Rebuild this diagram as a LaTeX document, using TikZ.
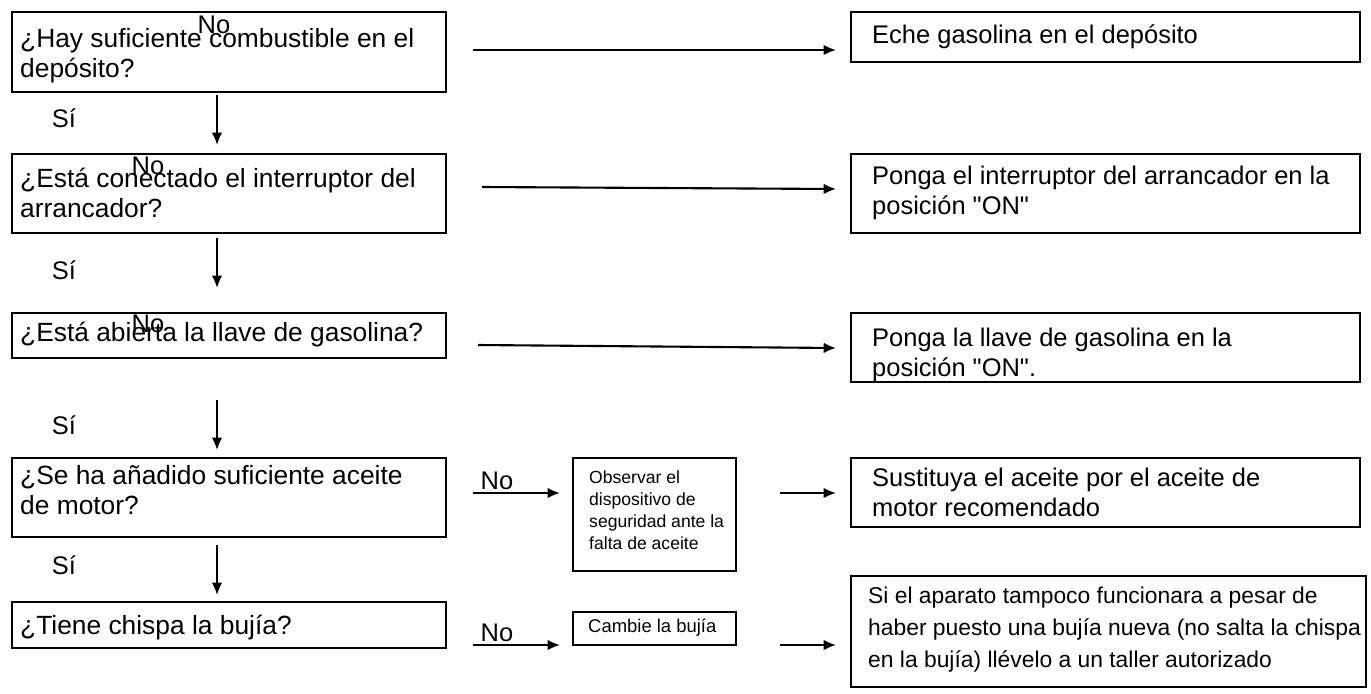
\documentclass[tikz,border=0pt]{standalone}
\usepackage{fontspec}
\setmainfont{Liberation Sans}
\usetikzlibrary{positioning,arrows.meta}
\newcommand\px{0.02cm}
\begin{document}
\begin{tikzpicture}[x=0.02cm,y=-0.02cm,
  box/.style={draw,thick,anchor=north west,inner sep=0pt,outer sep=0pt},
  lbl/.style={font=\fontsize{14.5}{17}\selectfont},
  qlbl/.style={font=\fontsize{15}{17}\selectfont},
  arr/.style={-{Latex[length=7pt,width=6pt]},line width=1.2pt}]
\useasboundingbox (0,0) rectangle (1371,693);

% QUESTIONS
\node[box,minimum width=434*\px,minimum height=80*\px] (q1) at (12,12) {};
\node[anchor=north west,qlbl,align=left] at (14,22) {¿Hay suficiente combustible en el\\depósito?};
\node[box,minimum width=434*\px,minimum height=79*\px] (q2) at (12,154) {};
\node[anchor=west,qlbl,align=left] at (14,193) {¿Está conectado el interruptor del\\arrancador?};
\node[box,minimum width=434*\px,minimum height=45*\px] (q3) at (12,313) {};
\node[anchor=west,qlbl] at (14,335) {¿Está abierta la llave de gasolina?};
\node[box,minimum width=434*\px,minimum height=79*\px] (q4) at (12,458) {};
\node[anchor=west,qlbl,align=left] at (14,490) {¿Se ha añadido suficiente aceite\\de motor?};
\node[box,minimum width=434*\px,minimum height=46*\px] (q5) at (12,602) {};
\node[anchor=west,qlbl] at (14,628) {¿Tiene chispa la bujía?};

% ACTIONS
\node[box,minimum width=509*\px,minimum height=50*\px] (a1) at (851,12) {};
\node[anchor=west,lbl] at (866,37) {Eche gasolina en el depósito};
\node[box,minimum width=509*\px,minimum height=79*\px] (a2) at (851,154) {};
\node[anchor=north west,lbl,align=left] at (866,160) {Ponga el interruptor del arrancador en la\\posición \textquotedbl ON\textquotedbl};
\node[box,minimum width=509*\px,minimum height=69*\px] (a3) at (851,313) {};
\node[anchor=north west,lbl,align=left] at (866,322) {Ponga la llave de gasolina en la\\posición \textquotedbl ON\textquotedbl .};
\node[box,minimum width=509*\px,minimum height=69*\px] (a4) at (851,458) {};
\node[anchor=north west,lbl,align=left] at (866,462) {Sustituya el aceite por el aceite de\\motor recomendado};
\node[box,minimum width=515*\px,minimum height=111*\px] (a5) at (851,576) {};
\node[anchor=north west,align=left,font=\fontsize{13}{18}\selectfont] at (862,581) {Si el aparato tampoco funcionara a pesar de\\haber puesto una bujía nueva (no salta la chispa\\en la bujía) llévelo a un taller autorizado};

% MIDDLE
\node[box,minimum width=163*\px,minimum height=113*\px] (m4) at (573,458) {};
\node[anchor=north west,align=left,font=\fontsize{10}{12.5}\selectfont] at (583,465) {Observar el\\dispositivo de\\seguridad ante la\\falta de aceite};
\node[box,minimum width=163*\px,minimum height=33*\px] (m5) at (573,612) {};
\node[anchor=west,font=\fontsize{10.5}{12}\selectfont] at (582,628) {Cambie la bujía};

% NO ARROWS
\draw[arr] ([xshift=27*\px]q1.east |- 0,50) -- ([xshift=-15*\px]a1.west |- 0,50);
\draw[arr] ([xshift=36*\px]q2.east |- 0,187) -- ([xshift=-15*\px]a2.west |- 0,189);
\draw[arr] ([xshift=32*\px]q3.east |- 0,345) -- ([xshift=-15*\px]a3.west |- 0,348);
\draw[arr] ([xshift=27*\px]q4.east |- 0,493) -- ([xshift=-13*\px]m4.west |- 0,493);
\draw[arr] ([xshift=44*\px]m4.east |- 0,493) -- ([xshift=-15*\px]a4.west |- 0,493);
\draw[arr] ([xshift=27*\px]q5.east |- 0,645) -- ([xshift=-13*\px]m5.west |- 0,645);
\draw[arr] ([xshift=44*\px]m5.east |- 0,645) -- ([xshift=-15*\px]a5.west |- 0,645);

% SI ARROWS
\draw[arr] (217,95) -- (217,145);
\draw[arr] (217,238) -- (217,288);
\draw[arr] (217,400) -- (217,450);
\draw[arr] (217,545) -- (217,595);

% LABELS
\foreach \y in {118,270,425,565} \node[lbl] at (64,\y) {Sí};
\node[lbl] at (214,25) {No};
\node[lbl] at (148,166) {No};
\node[lbl] at (148,324) {No};
\node[lbl] at (497,481) {No};
\node[lbl] at (497,633) {No};
\end{tikzpicture}
\end{document}
